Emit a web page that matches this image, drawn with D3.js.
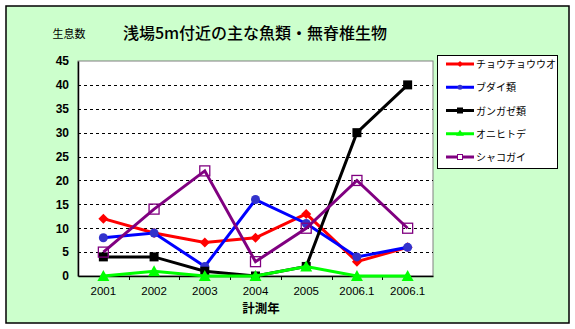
<!DOCTYPE html>
<html><head><meta charset="utf-8">
<script src="https://cdn.jsdelivr.net/npm/d3@7"></script>
<style>body{margin:0;background:#fff}svg{display:block}</style>
</head><body>
<script>
const categories = ["2001","2002","2003","2004","2005","2006.1","2006.1"];
const seriesNames = ["チョウチョウウオ","ブダイ類","ガンガゼ類","オニヒトデ","シャコガイ"];
const chouchouuo = [12, 9, 7, 8, 13, 3, 6];
const budai = [8, 9, 2, 16, 11, 4, 6];
const gangaze = [4, 4, 1, 0, 2, 30, 40];
const onihitode = [0, 1, 0, 0, 2, 0, 0];
const shakogai = [5, 14, 22, 3, 10, 20, 10];
const yTicks = [0,5,10,15,20,25,30,35,40,45];
const title = "浅場5m付近の主な魚類・無脊椎生物";
const yTitle = "生息数";
const xTitle = "計測年";

const series = [
  {name: seriesNames[0], values: chouchouuo, color: "#FF0000", marker: "diamond"},
  {name: seriesNames[1], values: budai, color: "#0000FF", marker: "circle"},
  {name: seriesNames[2], values: gangaze, color: "#000000", marker: "square"},
  {name: seriesNames[3], values: onihitode, color: "#00FF00", marker: "triangle"},
  {name: seriesNames[4], values: shakogai, color: "#800080", marker: "opensquare"}
];

const W = 575, H = 329;
const svg = d3.select("body").append("svg").attr("width", W).attr("height", H);
svg.append("rect").attr("x",0).attr("y",0).attr("width",W).attr("height",H).attr("fill","#fff");
svg.append("rect").attr("x",6).attr("y",6).attr("width",563).attr("height",317)
  .attr("fill","#CCFFCC").attr("stroke","#000").attr("stroke-width",1.5);

const plot = {l:78, t:61, r:433, b:276};
const x = d3.scaleBand().domain(d3.range(categories.length)).range([plot.l, plot.r]);
const y = d3.scaleLinear().domain([0,45]).range([plot.b, plot.t]);
const cx = i => x(i) + x.bandwidth()/2;

svg.append("rect").attr("x",plot.l).attr("y",plot.t).attr("width",plot.r-plot.l).attr("height",plot.b-plot.t)
  .attr("fill","#fff").attr("stroke","#808080").attr("stroke-width",1);

// gridlines
svg.append("g").selectAll("line").data(yTicks.filter(d=>d>0 && d<45)).join("line")
  .attr("x1",plot.l).attr("x2",plot.r).attr("y1",d=>Math.round(y(d))+0.5).attr("y2",d=>Math.round(y(d))+0.5)
  .attr("stroke","#000").attr("stroke-width",1).attr("stroke-dasharray","3,3");

// axes
const yAxis = d3.axisLeft(y).tickValues(yTicks).tickSize(0).tickPadding(9);
const gy = svg.append("g").attr("transform",`translate(${plot.l},0)`).call(yAxis);
gy.select(".domain").attr("stroke","#000").attr("stroke-width",1.5);
gy.selectAll("text").attr("font-family","Liberation Sans, Arial, sans-serif").attr("font-weight","bold").attr("font-size","12px").attr("fill","#000");

const xAxis = d3.axisBottom(x).tickFormat(i=>categories[i]).tickSize(0).tickPadding(11);
const gx = svg.append("g").attr("transform",`translate(0,${plot.b})`).call(xAxis);
gx.select(".domain").attr("stroke","#000").attr("stroke-width",1.5);
gx.selectAll("text").attr("font-family","Liberation Sans, Arial, sans-serif").attr("font-size","11.5px").attr("fill","#000");
// category boundary tick marks
svg.append("g").selectAll("line").data(d3.range(1, categories.length)).join("line")
  .attr("x1",i=>Math.round(x(i))+0.5).attr("x2",i=>Math.round(x(i))+0.5)
  .attr("y1",plot.b).attr("y2",plot.b+4).attr("stroke","#000").attr("stroke-width",1);

// titles
svg.append("text").attr("x",255).attr("y",39).attr("text-anchor","middle")
  .attr("font-family","Noto Sans CJK JP, sans-serif").attr("font-weight","500").attr("font-size","16px").attr("fill","#000").text(title);
svg.append("text").attr("x",69).attr("y",38).attr("text-anchor","middle")
  .attr("font-family","Noto Sans CJK JP, sans-serif").attr("font-size","11px").attr("fill","#000").text(yTitle);
svg.append("text").attr("x",261).attr("y",313).attr("text-anchor","middle")
  .attr("font-family","Noto Sans CJK JP, sans-serif").attr("font-weight","bold").attr("font-size","12.5px").attr("fill","#000").text(xTitle);

function drawMarker(g, type, color, px, py){
  if(type==="diamond"){
    g.append("path").attr("d",`M${px},${py-5}L${px+5},${py}L${px},${py+5}L${px-5},${py}Z`).attr("fill",color);
  } else if(type==="circle"){
    g.append("circle").attr("cx",px).attr("cy",py).attr("r",4.5).attr("fill","#3333CC");
  } else if(type==="square"){
    g.append("rect").attr("x",px-4.5).attr("y",py-4.5).attr("width",9).attr("height",9).attr("fill",color);
  } else if(type==="triangle"){
    g.append("path").attr("d",`M${px},${py-6}L${px+6},${py+5}L${px-6},${py+5}Z`).attr("fill",color);
  } else if(type==="opensquare"){
    g.append("rect").attr("x",px-5).attr("y",py-5).attr("width",10).attr("height",10).attr("fill","none").attr("stroke",color).attr("stroke-width",1.3);
  }
}

const line = d3.line().x((d,i)=>cx(i)).y(d=>y(d));
series.forEach(s=>{
  const g = svg.append("g");
  g.append("path").datum(s.values).attr("d",line).attr("fill","none").attr("stroke",s.color).attr("stroke-width",3);
  s.values.forEach((v,i)=>drawMarker(g, s.marker, s.color, cx(i), y(v)));
});

// legend
const lg = svg.append("g");
lg.append("rect").attr("x",437.5).attr("y",55.5).attr("width",120).attr("height",113).attr("fill","#fff").attr("stroke","#000").attr("stroke-width",1);
const ly = d3.scalePoint().domain(d3.range(series.length)).range([64,157]);
series.forEach((s,i)=>{
  const yy = ly(i);
  lg.append("line").attr("x1",446).attr("x2",474).attr("y1",yy).attr("y2",yy).attr("stroke",s.color).attr("stroke-width",3);
  const mg = lg.append("g");
  if(s.marker==="diamond") mg.append("path").attr("d",`M460,${yy-3}L463,${yy}L460,${yy+3}L457,${yy}Z`).attr("fill",s.color);
  else if(s.marker==="circle") mg.append("circle").attr("cx",460).attr("cy",yy).attr("r",2.5).attr("fill","#3333CC");
  else if(s.marker==="square") mg.append("rect").attr("x",457).attr("y",yy-3).attr("width",6).attr("height",6).attr("fill",s.color);
  else if(s.marker==="triangle") mg.append("path").attr("d",`M460,${yy-4}L464,${yy+2}L456,${yy+2}Z`).attr("fill",s.color);
  else mg.append("rect").attr("x",457.5).attr("y",yy-2.5).attr("width",5).attr("height",5).attr("fill","#fff").attr("stroke",s.color).attr("stroke-width",1);
  lg.append("text").attr("x",476).attr("y",yy+4).attr("font-family","Noto Sans CJK JP, sans-serif").attr("font-size","10px").attr("fill","#000").text(s.name);
});
</script>
</body></html>
